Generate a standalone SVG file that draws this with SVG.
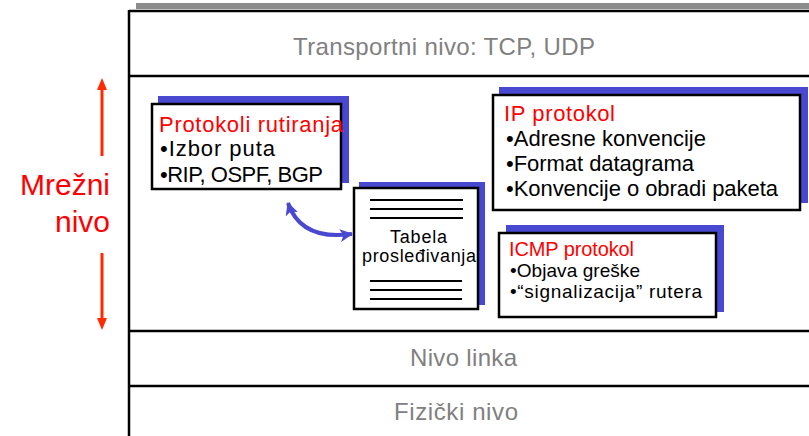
<svg xmlns="http://www.w3.org/2000/svg" width="809" height="436" viewBox="0 0 809 436">
<style>
.layer{font-family:"Liberation Sans",Arial,sans-serif;font-size:24px;fill:#808080}
.t{font-family:"Liberation Sans",Arial,sans-serif;fill:#000}
.red{fill:#ff0000}
.sh{fill:#4848d0}
.box{fill:#fff;stroke:#000;stroke-width:2.5}
.rule{stroke:#000;stroke-width:2.5}
.tl{stroke:#000;stroke-width:2}
.ra{stroke:#ff2a00;stroke-width:3;fill:none}
</style>
<defs>
<marker id="bh" viewBox="0 0 12 12" refX="11" refY="6" markerWidth="13" markerHeight="13" markerUnits="userSpaceOnUse" orient="auto-start-reverse">
<path d="M0,0 L12,6 L0,12 L3,6 Z" fill="#4848d0"/>
</marker>
</defs>
<rect x="136" y="3" width="673" height="6" fill="#8c8c8c"/>
<g id="frame">
<line class="rule" x1="129" y1="11" x2="809" y2="11"/>
<line class="rule" x1="129" y1="10" x2="129" y2="436"/>
<line class="rule" x1="130" y1="76" x2="809" y2="76"/>
<line class="rule" x1="130" y1="331" x2="809" y2="331"/>
<line class="rule" x1="130" y1="386" x2="809" y2="386"/>
</g>
<g id="transport"><text class="layer" x="293" y="55" textLength="302">Transportni nivo: TCP, UDP</text></g>
<g id="link"><text class="layer" x="410" y="366" textLength="107">Nivo linka</text></g>
<g id="physical"><text class="layer" x="394" y="420" textLength="124">Fizički nivo</text></g>
<g id="network-label">
<text class="t red" x="110" y="195" font-size="30" text-anchor="end">Mrežni</text>
<text class="t red" x="110" y="232" font-size="30" text-anchor="end">nivo</text>
</g>
<g id="routing">
<rect class="sh" x="158" y="96" width="191" height="87"/>
<rect class="box" x="152" y="104" width="189" height="85"/>
<text class="t red" x="159" y="132" font-size="22" textLength="184">Protokoli rutiranja</text>
<text class="t" x="160" y="156" font-size="22" textLength="115">•Izbor puta</text>
<text class="t" x="160" y="182" font-size="22" textLength="163">•RIP, OSPF, BGP</text>
</g>
<g id="forwarding">
<rect class="sh" x="359" y="182" width="126" height="123"/>
<rect class="box" x="354" y="188" width="124" height="121"/>
<line class="tl" x1="370" y1="200" x2="463" y2="200"/>
<line class="tl" x1="370" y1="209" x2="463" y2="209"/>
<line class="tl" x1="370" y1="218" x2="463" y2="218"/>
<text class="t" x="390" y="243" font-size="18" textLength="57">Tabela</text>
<text class="t" x="362" y="262" font-size="18" textLength="114">prosleđivanja</text>
<line class="tl" x1="370" y1="281" x2="462" y2="281"/>
<line class="tl" x1="370" y1="290" x2="462" y2="290"/>
<line class="tl" x1="370" y1="299" x2="462" y2="299"/>
</g>
<g id="ip">
<rect class="sh" x="499" y="87" width="309" height="116"/>
<rect class="box" x="493" y="95" width="307" height="115"/>
<text class="t red" x="504" y="121" font-size="22" textLength="111">IP protokol</text>
<text class="t" x="506" y="146" font-size="22" textLength="200">•Adresne konvencije</text>
<text class="t" x="506" y="171" font-size="22" textLength="188">•Format datagrama</text>
<text class="t" x="506" y="196" font-size="22" textLength="272">•Konvencije o obradi paketa</text>
</g>
<g id="icmp">
<rect class="sh" x="506" y="225" width="218" height="87"/>
<rect class="box" x="499" y="233" width="217" height="84"/>
<text class="t red" x="509" y="256" font-size="20" textLength="125">ICMP protokol</text>
<text class="t" x="510" y="277" font-size="19" textLength="130">•Objava greške</text>
<text class="t" x="510" y="298" font-size="19" textLength="192">•“signalizacija” rutera</text>
</g>
<g id="connectors">
<line class="ra" x1="102" y1="156" x2="102" y2="86"/>
<polygon points="102,78 97,90 107,90" fill="#ff2a00"/>
<line class="ra" x1="102" y1="253" x2="102" y2="322"/>
<polygon points="102,330 97,318 107,318" fill="#ff2a00"/>
<path d="M288,203 Q301,241 352,234" fill="none" stroke="#4848d0" stroke-width="4" marker-start="url(#bh)" marker-end="url(#bh)"/>
</g>
</svg>
